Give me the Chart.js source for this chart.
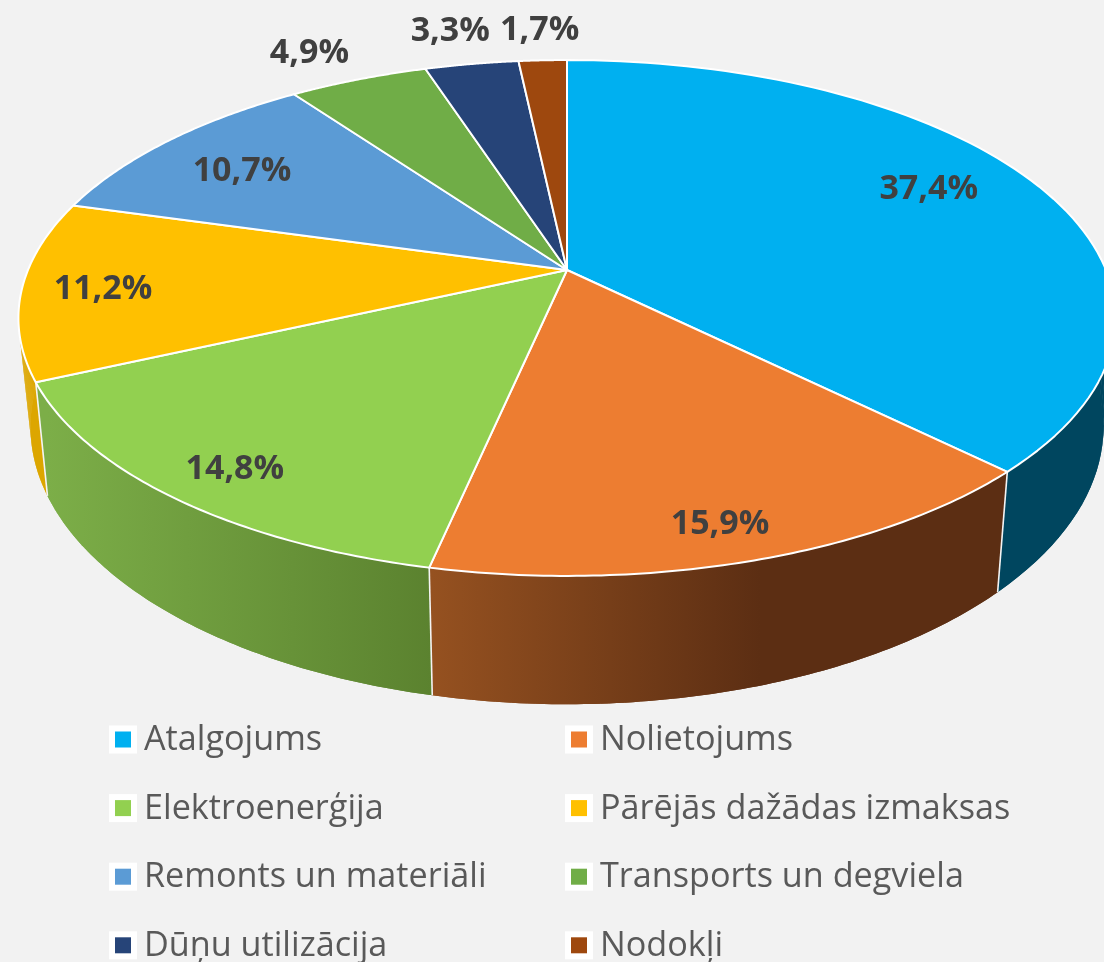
<!DOCTYPE html>
<html><head><meta charset="utf-8">
<style>html,body{margin:0;padding:0;background:#f2f2f2;overflow:hidden}canvas{display:block;filter:blur(0.5px)}</style>
<script src="https://cdn.jsdelivr.net/npm/chart.js@4/dist/chart.umd.min.js"></script>
</head><body><canvas id="c" width="1104" height="962"></canvas>
<script>
const categories = ["Atalgojums","Nolietojums","Elektroenerģija","Pārējās dažādas izmaksas","Remonts un materiāli","Transports un degviela","Dūņu utilizācija","Nodokļi"];
const shares = [37.4,15.9,14.8,11.2,10.7,4.9,3.3,1.7];
const sliceColors = ["#00b0f0","#ed7d31","#92d050","#ffc000","#5b9bd5","#70ad47","#264478","#9e480e"];
const wallColors = [["#00465f","#00465f"],["#955120","#5c2e13"],["#7cae48","#5b822f"],["#dca600","#dca600"],["#3a6a96","#3a6a96"],["#4c7a30","#4c7a30"],["#1a2f55","#1a2f55"],["#6e320a","#6e320a"]];

const view = {cx:567, cy:270, rx:539, ry:249, k:0.186, wallScale:0.978, wallY:375, wallRy:268};
const labelNudges = [[21,-15],[26,57],[-61,43],[-73,5],[-30,-3],[-101,-74],[-45,-84],[-9,-82]];

function top3d(t, r=1){const X=r*Math.sin(t),Y=r*Math.cos(t),w=1+view.k*Y;return [view.cx+view.rx*X/w, view.cy-view.ry*Y/w];}
function base3d(t){const X=Math.sin(t),Y=Math.cos(t),w=1+view.k*Y;return [view.cx+view.wallScale*view.rx*X/w, view.wallY-view.wallRy*Y/w];}

const pie3d = {
  id:'pie3d',
  beforeDatasetsDraw(chart){
    const ctx = chart.ctx, arcs = chart.getDatasetMeta(0).data;
    const angles = arcs.map(a=>[a.startAngle+Math.PI/2, a.endAngle+Math.PI/2]);
    const N = 80;
    const trace = (fn,a,b)=>{for(let i=0;i<=N;i++){const p=fn(a+(b-a)*i/N);ctx.lineTo(p[0],p[1]);}};
    ctx.save();
    // side walls: the outline first, then each swept step on top of it
    angles.forEach(([a,b],i)=>{
      const xs=[];for(let j=0;j<=N;j++)xs.push(base3d(a+(b-a)*j/N)[0]);
      const x0=Math.min(...xs),x1=Math.max(...xs);
      const g=ctx.createLinearGradient(x0,0,x1,0);
      g.addColorStop(0,wallColors[i][0]);
      g.addColorStop(i===1?0.58:1,wallColors[i][1]);
      g.addColorStop(1,wallColors[i][1]);
      ctx.fillStyle=g;
      ctx.beginPath();trace(top3d,a,b);trace(base3d,b,a);ctx.closePath();ctx.fill();
      for(let j=0;j<N;j++){
        const t0=a+(b-a)*j/N,t1=a+(b-a)*(j+1)/N;
        const p0=top3d(t0),p1=top3d(t1),q1=base3d(t1),q0=base3d(t0);
        ctx.beginPath();ctx.moveTo(p0[0],p0[1]);ctx.lineTo(p1[0],p1[1]);ctx.lineTo(q1[0],q1[1]);ctx.lineTo(q0[0],q0[1]);ctx.closePath();
        ctx.fill();
      }
    });
    ctx.strokeStyle='#f4f4f4';ctx.lineWidth=1.6;
    angles.forEach(([a])=>{
      const p=top3d(a),q=base3d(a);
      ctx.beginPath();ctx.moveTo(p[0],p[1]);ctx.lineTo(q[0],q[1]);ctx.stroke();
    });
    // top faces
    ctx.lineJoin='round';ctx.strokeStyle='#ffffff';ctx.lineWidth=2;
    angles.forEach(([a,b],i)=>{
      ctx.beginPath();ctx.moveTo(view.cx,view.cy);trace(top3d,a,b);ctx.closePath();
      ctx.fillStyle=sliceColors[i];ctx.fill();ctx.stroke();
    });
    // value labels
    ctx.font='bold 34px "Open Sans"';ctx.fillStyle='#404040';ctx.textAlign='center';ctx.textBaseline='middle';
    angles.forEach(([a,b],i)=>{
      const p=top3d((a+b)/2,0.72);
      ctx.fillText(shares[i].toFixed(1).replace('.',',')+'%',p[0]+labelNudges[i][0],p[1]+labelNudges[i][1]);
    });
    // legend
    ctx.font='34.2px "Open Sans"';ctx.textAlign='left';
    categories.forEach((name,i)=>{
      const col=i%2,row=(i-col)/2;
      const x=col?565:109,y=739.5+row*68.6;
      ctx.fillStyle='#ffffff';ctx.fillRect(x,y-14,28,28);
      ctx.fillStyle=sliceColors[i];ctx.fillRect(x+6,y-8,16,16);
      ctx.fillStyle='#595959';ctx.fillText(name,x+35,y+1);
    });
    ctx.restore();
    return false;
  }
};

new Chart(document.getElementById('c'),{
  type:'pie',
  data:{labels:categories,datasets:[{data:shares,backgroundColor:sliceColors}]},
  options:{responsive:false,animation:false,plugins:{legend:{display:false},tooltip:{enabled:false}}},
  plugins:[pie3d]
});
</script></body></html>
